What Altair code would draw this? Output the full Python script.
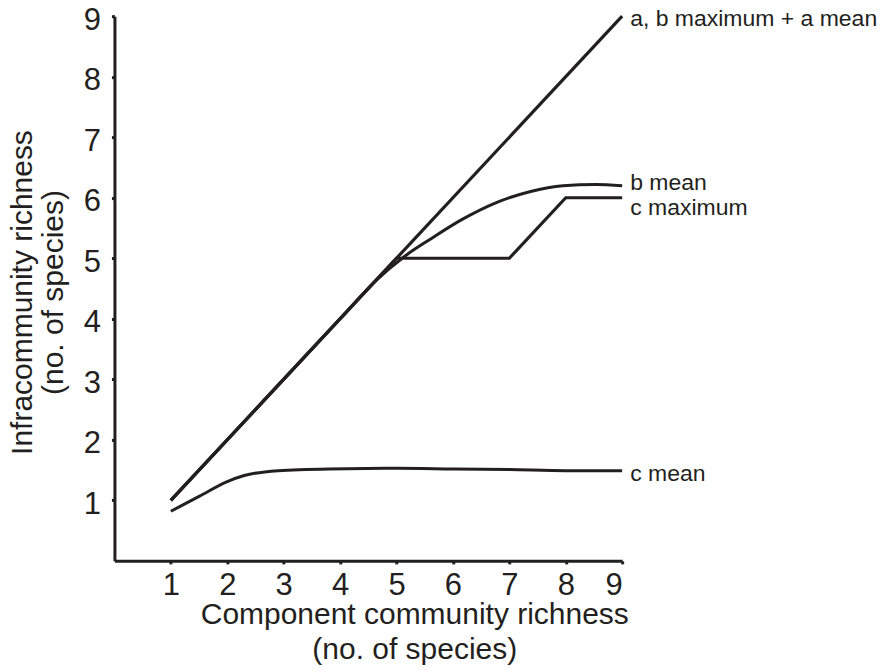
import altair as alt
import pandas as pd

# data
ab_max_x = [1, 9]
ab_max_y = [1, 9]

cmax_x = [1, 5, 7, 8, 9]
cmax_y = [1, 5, 5, 6, 6]

bmean_x = [1, 2, 3, 4, 4.6, 5.14, 5.59, 6.18, 6.77, 7.36, 7.95, 8.53, 9]
bmean_y = [1, 2, 3, 4, 4.6, 5.03, 5.31, 5.65, 5.92, 6.10, 6.20, 6.22, 6.20]

cmean_x = [1, 1.5, 2, 2.3, 2.9, 3.8, 5, 6, 7, 8, 9]
cmean_y = [0.82, 1.065, 1.31, 1.41, 1.49, 1.52, 1.53, 1.52, 1.51, 1.49, 1.49]

label_text = ["a, b maximum + a mean", "b mean", "c maximum", "c mean"]
label_y = [8.95, 6.25, 5.83, 1.44]

tick_vals = [1, 2, 3, 4, 5, 6, 7, 8, 9]

INK = "#231f20"
FONT = "Liberation Sans"

lin = pd.concat([
    pd.DataFrame({"x": ab_max_x, "y": ab_max_y, "s": "abmax"}),
    pd.DataFrame({"x": cmax_x, "y": cmax_y, "s": "cmax"}),
])
smooth = pd.concat([
    pd.DataFrame({"x": bmean_x, "y": bmean_y, "s": "bmean"}),
    pd.DataFrame({"x": cmean_x, "y": cmean_y, "s": "cmean"}),
])
labels = pd.DataFrame({"x": [9] * len(label_text), "y": label_y, "t": label_text})

xs = alt.Scale(domain=[0, 9], nice=False, zero=False)
ys = alt.Scale(domain=[0, 9], nice=False, zero=False)

xax = alt.Axis(values=tick_vals, format="d", labelOverlap=False,
               title=["Component community richness", "(no. of species)"],
               titleX=300, titleY=39, titleLineHeight=35, labelPadding=7)
yax = alt.Axis(values=tick_vals, format="d", labelOverlap=False, labelOffset=4,
               title=["Infracommunity richness", "(no. of species)"],
               titleX=-77, titleY=276, titleLineHeight=31, labelPadding=11)

base_x = alt.X("x:Q", scale=xs, axis=xax)
base_y = alt.Y("y:Q", scale=ys, axis=yax)

l1 = alt.Chart(lin).mark_line(color=INK, strokeWidth=3.2, clip=False).encode(
    x=base_x, y=base_y, detail="s:N", order="x:Q")
l2 = alt.Chart(smooth).mark_line(color=INK, strokeWidth=3, interpolate="monotone", clip=False).encode(
    x="x:Q", y="y:Q", detail="s:N", order="x:Q")
txt = alt.Chart(labels).mark_text(align="left", baseline="middle", dx=8, fontSize=23,
                                   font=FONT, color=INK).encode(x="x:Q", y="y:Q", text="t:N")

chart = alt.layer(l1, l2, txt).properties(
    width=508, height=545,
    autosize=alt.AutoSizeParams(type="none"),
    padding={"left": 106.5, "top": 8, "right": 257, "bottom": 106},
).configure_view(stroke=None).configure_axis(
    grid=False,
    domainColor=INK, domainWidth=3,
    tickColor=INK, tickWidth=3, tickSize=3,
    labelFont=FONT, labelFontSize=31, labelColor=INK,
    titleFont=FONT, titleFontSize=30, titleFontWeight="normal", titleColor=INK,
)

chart.save("out.html", embed_options={"renderer": "svg", "actions": False})
